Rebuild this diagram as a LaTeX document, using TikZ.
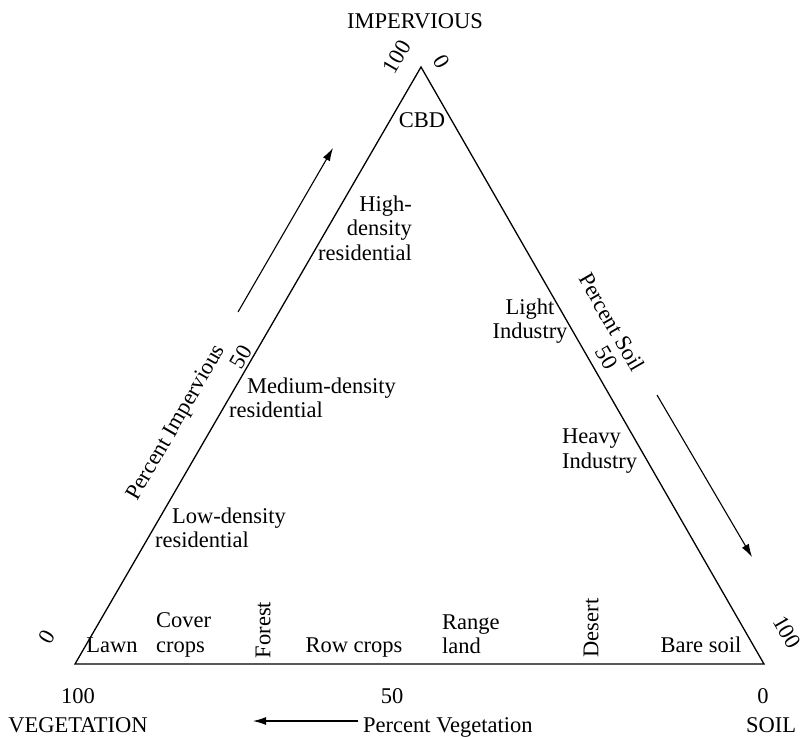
\documentclass[tikz,border=0pt]{standalone}
\usepackage{fontspec}
\setmainfont{Liberation Serif}
\usetikzlibrary{arrows.meta}

\begin{document}
\begin{tikzpicture}[x=1pt,y=1pt,yscale=-1,xscale=1,
  lbl/.style={inner sep=0pt,font=\fontsize{22.5}{24.5}\selectfont},
  sideline/.style={line width=1.3pt},
  dirarrow/.style={line width=1.1pt,-{Latex[length=13pt,width=8pt]}}]
\useasboundingbox (0,0) rectangle (804,737);
% corners of the triangle
\coordinate (vegc) at (75,664);
\coordinate (soilc) at (764,664);
\coordinate (impc) at (421,67);
\draw [sideline] (vegc) -- (soilc) -- (impc) -- cycle;
% direction arrows
\coordinate (imptail) at (238,312);
\coordinate (imphead) at (333,148);
\draw [dirarrow] (imptail) -- (imphead);
\coordinate (soiltail) at (657,395);
\coordinate (soilhead) at (752,557);
\draw [dirarrow] (soiltail) -- (soilhead);
\coordinate (vegtail) at (358,721);
\coordinate (veghead) at (253,721);
\draw [dirarrow] (vegtail) -- (veghead);
% corner and axis labels
\node [lbl] (impname) at (415,21) {IMPERVIOUS};
\node [lbl,rotate=60] (imp100) at (397,57) {100};
\node [lbl,rotate=-60] (soil0top) at (442,62) {0};
\node [lbl,rotate=60] (imp50) at (241,357) {50};
\node [lbl,rotate=60] (impaxis) at (177,423) {Percent Impervious};
\node [lbl,rotate=-60] (soilaxis) at (612,322) {Percent Soil};
\node [lbl,rotate=-60] (soil50) at (607,358) {50};
\node [lbl,rotate=-60] (soil100) at (787,632) {100};
\node [lbl,rotate=60] (veg0) at (47,637) {0};
\node [lbl,anchor=base] (veg100) at (78,703) {100};
\node [lbl,anchor=base] (veg50) at (392,703) {50};
\node [lbl,anchor=base] (vegnull) at (763,703) {0};
\node [lbl,anchor=base] (vegname) at (78,732) {VEGETATION};
\node [lbl,anchor=base west] (vegaxis) at (363,732) {Percent Vegetation};
\node [lbl,anchor=base] (soilname) at (771,732) {SOIL};
% land cover classes
\node [lbl] (cbd) at (422,120) {CBD};
\node [lbl,anchor=east,align=right] (highres) at (412,228) {High-\\density\\residential};
\node [lbl,anchor=west,align=left] (medres) at (229,398) {\hspace*{18pt}Medium-density\\residential};
\node [lbl,anchor=west,align=left] (lowres) at (155,528) {\hspace*{17pt}Low-density\\residential};
\node [lbl,align=center] (lightind) at (530,321) {Light\\Industry};
\node [lbl,anchor=west,align=left] (heavyind) at (562,451) {Heavy\\Industry};
\node [lbl,anchor=base] (lawn) at (112,652) {Lawn};
\node [lbl,anchor=west,align=left] (cover) at (156,635) {Cover\\crops};
\node [lbl,rotate=90] (forest) at (263,630) {Forest};
\node [lbl,anchor=base] (rowcrops) at (354,652) {Row crops};
\node [lbl,anchor=west,align=left] (range) at (442,634) {Range\\land};
\node [lbl,rotate=90] (desert) at (591,628) {Desert};
\node [lbl,anchor=base] (baresoil) at (701,652) {Bare soil};
\end{tikzpicture}
\end{document}
